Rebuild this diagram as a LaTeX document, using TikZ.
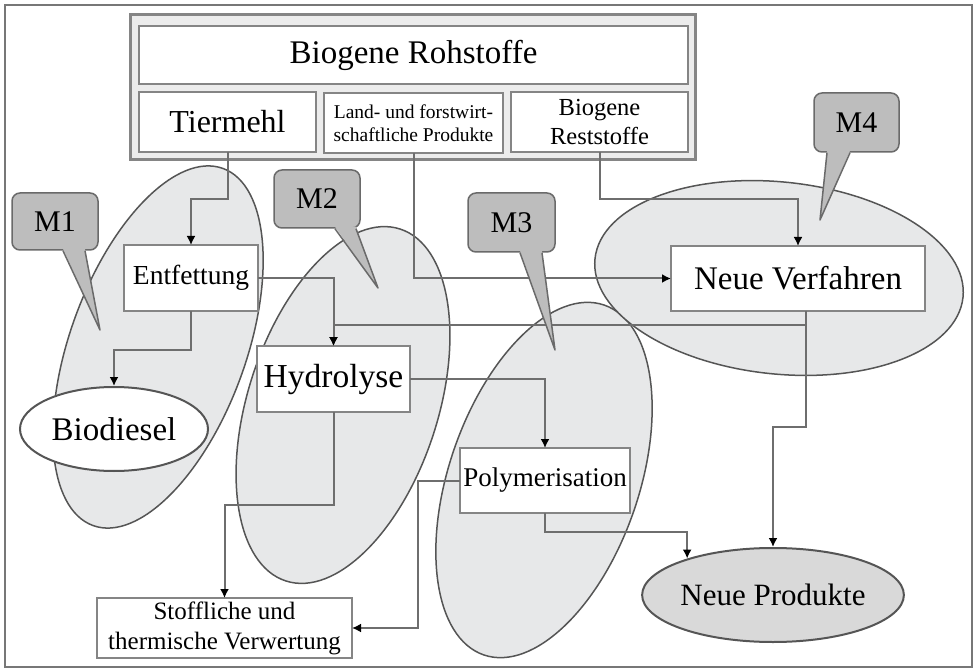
\documentclass[tikz,border=0pt]{standalone}
\usepackage{fontspec}
\setmainfont{Liberation Serif}
\usetikzlibrary{arrows.meta,shapes.geometric}
\definecolor{boxgray}{HTML}{858585}
\definecolor{linegray}{HTML}{6E6E6E}
\definecolor{ellgray}{HTML}{555555}
\definecolor{grpfill}{HTML}{E7E8E9}
\definecolor{topfill}{HTML}{ECECEC}
\definecolor{calloutfill}{HTML}{BDBDBD}
\definecolor{calloutline}{HTML}{6A6A6A}
\definecolor{npfill}{HTML}{D9D9D9}
\newcommand{\myfs}[2]{\fontsize{#1}{#2}\selectfont}
\tikzset{
  box/.style={draw=boxgray, line width=2.5pt, fill=white, inner sep=0pt, outer sep=0pt, align=center},
  conn/.style={draw=linegray, line width=2pt},
  arr/.style={conn, -{Latex[length=9pt,width=9pt,color=black]}},
  grp/.style={ellipse, draw=ellgray, line width=1.5pt, fill=grpfill, inner sep=0pt},
  callout/.style={rectangle, rounded corners=8pt, draw=calloutline, fill=calloutfill, line width=1.5pt, inner sep=0pt, font=\myfs{30}{30}},
  pointer/.style={draw=calloutline, line width=1.5pt, line join=round},
}
\begin{document}
\begin{tikzpicture}[x=1pt,y=-1pt]
\useasboundingbox (0,0) rectangle (975,671);
\node[draw=ellgray!80, line width=1.5pt, minimum width=967, minimum height=662, inner sep=0pt] (frame) at (488.5,336) {};

% group ellipses
\node[grp, minimum width=380, minimum height=176, rotate=70] (g1) at (158,347) {};
\node[grp, minimum width=370, minimum height=190, rotate=72] (g2) at (343,405) {};
\node[grp, minimum width=370, minimum height=190, rotate=71] (g3) at (544,480) {};
\node[grp, minimum width=370, minimum height=192, rotate=-6] (g4) at (779,278) {};

% top block
\node[draw=boxgray, line width=3pt, fill=topfill, minimum width=565, minimum height=145, inner sep=0pt] (top) at (412.5,87.5) {};
\node[box, minimum width=549, minimum height=58, font=\myfs{33}{36}] (title) at (413.5,55) {Biogene Rohstoffe};
\node[box, minimum width=177, minimum height=60, font=\myfs{32}{36}] (tier) at (227.5,122) {Tiermehl};
\node[box, minimum width=179, minimum height=60, font=\myfs{19.5}{23}] (land) at (413.5,123) {Land- und forstwirt-\\schaftliche Produkte};
\node[box, minimum width=177, minimum height=60, font=\myfs{24.5}{29}] (rest) at (599.5,122) {Biogene\\Reststoffe};

% process boxes
\node[box, minimum width=134, minimum height=66, font=\myfs{27.5}{30}] (entf) at (191,278) {Entfettung};
\node[box, minimum width=153, minimum height=66, font=\myfs{33.5}{36}] (hydro) at (333.5,379) {Hydrolyse};
\node[box, minimum width=170, minimum height=65, font=\myfs{27}{30}] (poly) at (545,480.5) {Polymerisation};
\node[box, minimum width=254, minimum height=65, font=\myfs{33}{36}] (nv) at (798,278.5) {Neue Verfahren};
\node[box, minimum width=255, minimum height=60, font=\myfs{25}{30}] (stoff) at (224.5,628) {Stoffliche und\\thermische Verwertung};
\node[ellipse, draw=ellgray, line width=2pt, fill=white, minimum width=188, minimum height=84, inner sep=0pt, font=\myfs{33}{36}] (bio) at (114,429) {Biodiesel};
\node[ellipse, draw=ellgray, line width=2pt, fill=npfill, minimum width=220, minimum height=94, inner sep=0pt, font=\myfs{31}{34}] (np) at (773,595) {Neue Produkte};

% connectors
\draw[arr] (tier.south) -- (tier.south |- 0,199) -| (entf.north);
\draw[arr] (entf.south) -- (entf.south |- 0,350) -| (bio.north);
\draw[arr] (entf.east) -| (hydro.north);
\draw[arr] ([xshift=8pt]nv.south) -- ([xshift=8pt]nv.south |- 0,325) -| (hydro.north);
\draw[arr] ([xshift=8pt]nv.south) -- ([xshift=8pt]nv.south |- 0,427) -| (np.north);
\draw[arr] (land.south) |- (nv.west);
\draw[arr] (rest.south) -- (rest.south |- 0,199) -| (nv.north);
\draw[arr] (hydro.east) -| (poly.north);
\draw[arr] (hydro.south) -- (hydro.south |- 0,505) -| (stoff.north);
\draw[arr] (poly.west) -| ([xshift=66pt]stoff.east) -- (stoff.east);
\draw[arr] (poly.south) -- (poly.south |- 0,532) -| (np.157);

% callouts
\node[callout, minimum width=86, minimum height=57] (m1) at (55,221.5) {M1};
\node[callout, minimum width=86, minimum height=58] (m2) at (317,199) {M2};
\node[callout, minimum width=87, minimum height=59] (m3) at (511.5,222.5) {M3};
\node[callout, minimum width=85, minimum height=59] (m4) at (856.5,122.5) {M4};
\coordinate (t1) at (100,330);
\coordinate (t2) at (378,288);
\coordinate (t3) at (555,350);
\coordinate (t4) at (820,220);
\fill[calloutfill] ([xshift=8pt,yshift=2pt]m1.south) -- (t1) -- ([xshift=30pt,yshift=2pt]m1.south) -- cycle;
\draw[pointer] ([xshift=8pt]m1.south) -- (t1) -- ([xshift=30pt]m1.south);
\fill[calloutfill] ([xshift=18pt,yshift=2pt]m2.south) -- (t2) -- ([xshift=39pt,yshift=2pt]m2.south) -- cycle;
\draw[pointer] ([xshift=18pt]m2.south) -- (t2) -- ([xshift=39pt]m2.south);
\fill[calloutfill] ([xshift=8.5pt,yshift=2pt]m3.south) -- (t3) -- ([xshift=30.5pt,yshift=2pt]m3.south) -- cycle;
\draw[pointer] ([xshift=8.5pt]m3.south) -- (t3) -- ([xshift=30.5pt]m3.south);
\fill[calloutfill] ([xshift=-29.5pt,yshift=2pt]m4.south) -- (t4) -- ([xshift=-6.5pt,yshift=2pt]m4.south) -- cycle;
\draw[pointer] ([xshift=-29.5pt]m4.south) -- (t4) -- ([xshift=-6.5pt]m4.south);
\end{tikzpicture}
\end{document}
